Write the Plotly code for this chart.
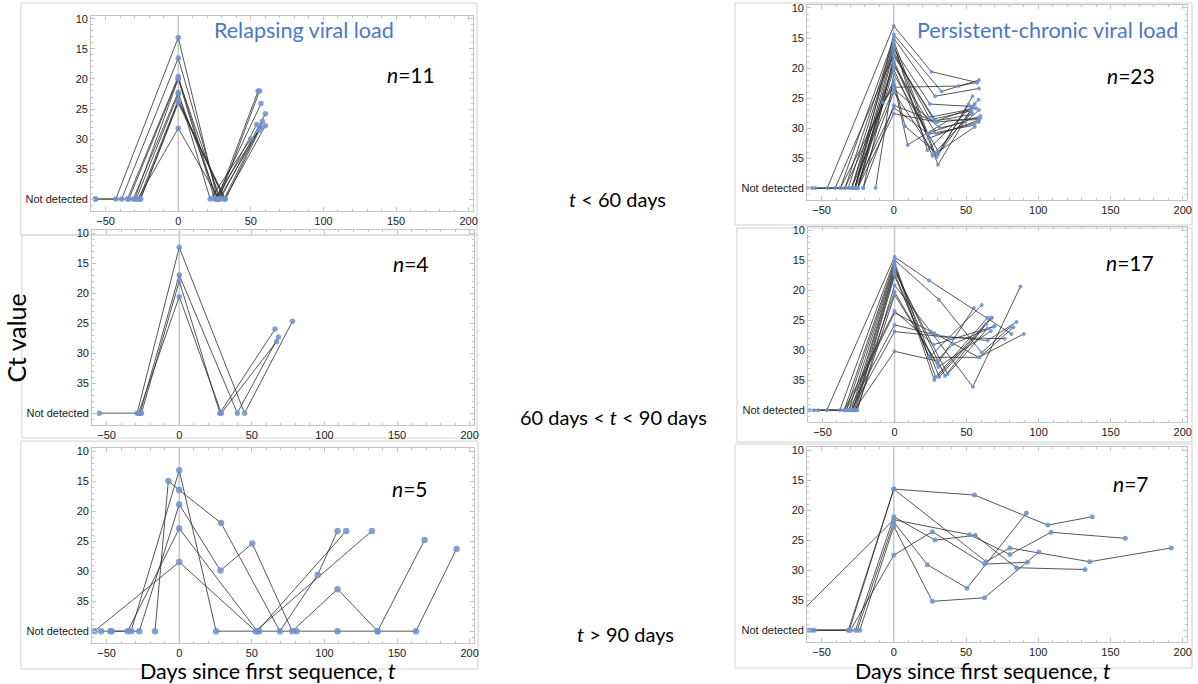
import plotly.graph_objects as go

ND = 40  # "Not detected" is drawn at Ct = 40

# ---------------- Relapsing viral load, t < 60 days (n=11) ----------------
rel_lt60_days = [
    [-57, -43, 0, 27, 55],
    [-39, 0, 28, 56],
    [-35, 0, 26, 57],
    [-34, 0, 29, 60],
    [-31, 0, 22, 50],
    [-29, 0, 27, 54],
    [-27, 0, 31.5, 58],
    [-26, 0, 32.5, 57],
    [-57, -26, 0, 32, 60],
    [-30, 0, 25, 56],
    [-28, 0, 28, 55.5],
]
rel_lt60_ct = [
    [ND, ND, 13.1, ND, 22.0],
    [ND, 16.5, ND, 22.0],
    [ND, 19.6, ND, 24.1],
    [ND, 19.9, ND, 25.8],
    [ND, 22.2, ND, 30.0],
    [ND, 22.5, ND, 27.6],
    [ND, 23.5, ND, 27.1],
    [ND, 23.7, ND, 28.0],
    [ND, ND, 24.0, ND, 27.8],
    [ND, 20.0, ND, 28.3],
    [ND, 28.2, ND, 28.6],
]

# ---------------- Relapsing viral load, 60 < t < 90 days (n=4) ----------------
rel_60_90_days = [
    [-55, -29, 0, 45, 78],
    [-27, 0, 40, 68.3],
    [-26, 0, 28, 66],
    [-28, 0, 29, 67],
]
rel_60_90_ct = [
    [ND, ND, 12.4, ND, 24.7],
    [ND, 17.0, ND, 27.3],
    [ND, 18.0, ND, 26.0],
    [ND, 20.6, ND, 28.1],
]

# ---------------- Relapsing viral load, t > 90 days (n=5) ----------------
rel_gt90_days = [
    [-58.4, 0, 52.6, 132.7],
    [-53.8, -47.4, -33.2, 0, 25.4, 55, 80.8, 109, 136.6, 163, 191],
    [-16.7, -7.5, 0, 28.8, 69.3, 95.4, 109],
    [-46.5, -27.5, 0, 28.4, 50.3, 77.8, 109, 136.6, 169],
    [-35.5, 0, 53.8, 115],
]
rel_gt90_ct = [
    [ND, 28.5, ND, 23.3],
    [ND, ND, ND, 13.2, ND, ND, ND, ND, ND, ND, 26.3],
    [ND, 15.0, 16.5, 22.0, ND, 30.6, 23.3],
    [ND, ND, 18.9, 29.9, 25.4, ND, 33.0, ND, 24.8],
    [ND, 22.9, ND, 23.3],
]

# ---------------- Persistent-chronic, t < 60 days (n=23) ----------------
per_lt60_days = [
    [-46, 0, 26, 57.5],
    [-60, -27, 0, 33, 59],
    [-37, 0, 28.5, 59],
    [-33.8, 0, 29.5, 54.5],
    [-31.5, 0, 23.3, 58.7],
    [-29.2, 0, 30.6, 56],
    [-56.6, -27, 0, 25, 54],
    [-25, 0, 24.4, 57],
    [-40.6, 0, 27.4, 53.7],
    [-21.2, 0, 29, 54.5],
    [-54.3, -25, 0, 22.8, 60],
    [-29.2, 0, 24, 58.7],
    [-27, 0, 29.5, 58.7],
    [-25, 0, 26.7, 56],
    [-12.6, 0, 31, 51.8],
    [-33.8, 0, 7.8, 30.6, 55],
    [-37, 0, 9.6, 38, 59],
    [-27, -7.5, 0, 45, 57.5],
    [-29.2, 0, 32, 49.5, 59],
    [-25, 0, 28, 54],
    [-21.2, 0, 28.5, 53],
    [-27, 0, 24, 56],
    [-25, 0, 30, 60],
]
per_lt60_ct = [
    [ND, 13.0, 20.6, 22.4],
    [ND, ND, 14.4, 23.9, 22.0],
    [ND, 15.0, 24.7, 23.4],
    [ND, 15.5, 34.9, 24.7],
    [ND, 16.0, 33.7, 25.3],
    [ND, 16.3, 36.1, 26.0],
    [ND, ND, 16.8, 26.0, 26.4],
    [ND, 17.3, 28.2, 26.7],
    [ND, 17.7, 28.5, 27.1],
    [ND, 18.0, 28.8, 27.7],
    [ND, ND, 18.8, 30.9, 28.0],
    [ND, 19.2, 31.7, 28.7],
    [ND, 19.6, 31.0, 29.0],
    [ND, 20.2, 34.6, 29.8],
    [ND, 21.0, 34.0, 26.1],
    [ND, 22.0, 29.7, 34.4, 26.5],
    [ND, 22.6, 32.8, 28.7, 28.6],
    [ND, 25.7, 23.2, 23.0, 22.4],
    [ND, 23.5, 30.0, 29.0, 27.0],
    [ND, 24.0, 34.2, 27.5],
    [ND, 26.2, 28.9, 26.8],
    [ND, 26.6, 31.0, 29.5],
    [ND, 27.6, 29.0, 28.3],
]

# ---------------- Persistent-chronic, 60 < t < 90 days (n=17) ----------------
per_60_90_days = [
    [-47, 0, 24, 81],
    [-38, 0, 30.8, 60.5, 80.6],
    [-59, -35, 0, 28.5, 64.6],
    [-33.6, 0, 27.6, 66.9],
    [-31.7, 0, 31, 67.6],
    [-30, 0, 35, 63.5],
    [-29, 0, 36.8, 64.6],
    [-27.9, 0, 24, 60.5],
    [-26, 0, 25, 54.3, 87.4],
    [-56, -29, 0, 30.4, 66.9],
    [-53, -26, 0, 29.9, 55],
    [-35, 0, 27, 68.7],
    [-33.6, 0, 27.6, 58.4, 89.7],
    [-31.7, 0, 30.4, 64.6, 84.7],
    [-30, 0, 37.7, 76.5],
    [-28, 0, 29.2, 40.6, 69.5],
    [-27, 0, 24, 59, 82.5],
]
per_60_90_ct = [
    [ND, 14.5, 18.4, 27.3],
    [ND, 15.0, 21.6, 30.4, 26.1],
    [ND, ND, 15.4, 34.5, 24.6],
    [ND, 15.8, 35.0, 24.6],
    [ND, 16.1, 34.5, 24.6],
    [ND, 16.5, 34.3, 25.7],
    [ND, 16.8, 34.0, 26.4],
    [ND, 17.2, 31.2, 22.5],
    [ND, 19.2, 26.9, 36.1, 19.4],
    [ND, ND, 20.3, 32.8, 26.8],
    [ND, ND, 20.8, 32.3, 23.0],
    [ND, 23.5, 29.1, 26.1],
    [ND, 23.8, 27.2, 31.2, 27.3],
    [ND, 25.8, 27.6, 28.4, 25.3],
    [ND, 26.9, 27.9, 28.1],
    [ND, 30.2, 31.8, 29.0, 26.0],
    [ND, 17.6, 31.2, 31.2, 26.2],
]

# ---------------- Persistent-chronic, t > 90 days (n=7) ----------------
per_gt90_days = [
    [-59, -31.5, 0, 55.9, 106.6, 137.4],
    [-57, -30.8, 0, 63.9, 80.4, 135.6, 192.2],
    [-77, 0, 52.5, 80.4, 108.9, 160.3],
    [-55, -26.5, 0, 28.5, 56.4, 84.9, 132.4],
    [-25.3, 0, 23.3, 50.7, 91.8],
    [-23.5, 0, 26.7, 62.8, 100.5],
    [-30, 0, 26.7, 62.8, 92.5],
]
per_gt90_ct = [
    [ND, ND, 16.5, 17.5, 22.5, 21.1],
    [ND, ND, 16.5, 28.6, 26.3, 28.6, 26.3],
    [ND, 21.6, 24.1, 27.4, 23.7, 24.7],
    [ND, ND, 21.1, 25.0, 24.2, 29.6, 29.9],
    [ND, 22.0, 29.1, 33.0, 20.5],
    [ND, 22.7, 35.2, 34.6, 27.0],
    [ND, 27.5, 23.6, 29.0, 28.7],
]

y_tickvals = [10, 15, 20, 25, 30, 35, 40]
y_ticktext = ["10", "15", "20", "25", "30", "35", "Not detected"]
x_tickvals = [-50, 0, 50, 100, 150, 200]
n_labels = ["11", "4", "5", "23", "17", "7"]

W, H = 1198, 684


def xdom(a, b):
    return [a / W, b / W]


def ydom(top, bottom):
    return [1 - bottom / H, 1 - top / H]


panels = [
    dict(days=rel_lt60_days, ct=rel_lt60_ct, xpx=(91.5, 475), ypx=(13, 209), ms=5.5, npos=(413, 72)),
    dict(days=rel_60_90_days, ct=rel_60_90_ct, xpx=(92.5, 476), ypx=(228, 424), ms=5.5, npos=(413, 262)),
    dict(days=rel_gt90_days, ct=rel_gt90_ct, xpx=(92.5, 476), ypx=(447, 643), ms=6.5, npos=(412, 488)),
    dict(days=per_lt60_days, ct=per_lt60_ct, xpx=(810.5, 1192), ypx=(2, 198), ms=4, npos=(1136, 73)),
    dict(days=per_60_90_days, ct=per_60_90_ct, xpx=(811.5, 1192), ypx=(225, 421), ms=4, npos=(1135, 261)),
    dict(days=per_gt90_days, ct=per_gt90_ct, xpx=(810.5, 1192), ypx=(446, 642), ms=5, npos=(1136, 483)),
]

fig = go.Figure()
layout = dict(
    width=W, height=H, margin=dict(l=0, r=0, t=0, b=0),
    paper_bgcolor="white", plot_bgcolor="white", showlegend=False,
)
shapes = []
annotations = []

axis_col = "#c4c4c4"
tick_font = dict(family="Liberation Sans, Arial, sans-serif", size=11, color="#1a1a1a")

for i, p in enumerate(panels, start=1):
    xa = "x" if i == 1 else f"x{i}"
    ya = "y" if i == 1 else f"y{i}"
    xkey = "xaxis" if i == 1 else f"xaxis{i}"
    ykey = "yaxis" if i == 1 else f"yaxis{i}"
    layout[xkey] = dict(
        domain=xdom(*p["xpx"]), anchor=ya, range=[-60, 203],
        tickvals=x_tickvals, ticks="inside", ticklen=4, tickcolor=axis_col,
        showline=True, linecolor=axis_col, linewidth=1, mirror="ticks",
        showgrid=False, zeroline=False, tickfont=tick_font,
        minor=dict(ticks="inside", ticklen=2, dtick=10, tickcolor=axis_col, showgrid=False),
    )
    layout[ykey] = dict(
        domain=ydom(*p["ypx"]), anchor=xa, range=[42, 9.5],
        tickmode="array", tickvals=y_tickvals, ticktext=y_ticktext,
        ticks="inside", ticklen=4, tickcolor=axis_col,
        showline=True, linecolor=axis_col, linewidth=1, mirror="ticks",
        showgrid=False, zeroline=False, tickfont=tick_font,
        minor=dict(ticks="inside", ticklen=2, dtick=1, tick0=10, tickcolor=axis_col, showgrid=False),
    )
    shapes.append(dict(type="line", xref=xa, yref=f"{ya} domain", x0=0, x1=0, y0=0, y1=1,
                       line=dict(color="#c8c8c8", width=1.5), layer="below"))
    for d, c in zip(p["days"], p["ct"]):
        fig.add_trace(go.Scatter(x=d, y=c, mode="lines", xaxis=xa, yaxis=ya,
                                 line=dict(color="rgba(45,45,45,0.8)", width=1),
                                 hoverinfo="skip"))
    for d, c in zip(p["days"], p["ct"]):
        fig.add_trace(go.Scatter(x=d, y=c, mode="markers", xaxis=xa, yaxis=ya,
                                 marker=dict(color="rgba(112,146,204,0.85)", size=p["ms"])))
    nx, ny = p["npos"]
    annotations.append(dict(text=f"<i>n</i>={n_labels[i-1]}", xref="paper", yref="paper",
                            x=nx / W, y=1 - ny / H, xanchor="center", yanchor="middle",
                            showarrow=False, font=dict(family="Lato, sans-serif", size=21, color="black")))

# Panel frames (light gray boxes)
frames = [(21, 0, 479, 233), (22, 233, 479, 437), (21, 440, 480, 669),
          (738, 0, 1198, 223), (740, 226, 1198, 441), (738, 443, 1198, 668)]
for x0, y0, x1, y1 in frames:
    shapes.append(dict(type="rect", xref="paper", yref="paper",
                       x0=x0 / W, x1=min(x1, 1197) / W, y0=1 - y1 / H, y1=1 - y0 / H,
                       line=dict(color="#d2d2d2", width=1), layer="below"))

blue = "#4a78c8"
text_font = dict(family="Lato, sans-serif", size=20, color="black")


def ann(text, px, py, font, **kw):
    d = dict(text=text, xref="paper", yref="paper", x=px / W, y=1 - py / H,
             xanchor="center", yanchor="middle", showarrow=False, font=font)
    d.update(kw)
    annotations.append(d)


ann("Relapsing viral load", 305, 27, dict(family="Lato, sans-serif", size=21.5, color=blue))
ann("Persistent-chronic viral load", 1052, 27, dict(family="Lato, sans-serif", size=21.5, color=blue))
ann("<i>t</i> &lt; 60 days", 620, 197, text_font)
ann("60 days &lt; <i>t</i> &lt; 90 days", 616, 416, text_font)
ann("<i>t</i> &gt; 90 days", 628, 634, text_font)
ann("Ct value", 16, 336, dict(family="Lato, sans-serif", size=25, color="black"), textangle=-90)
ann("Days since first sequence, <i>t</i>", 269, 671, dict(family="Lato, sans-serif", size=21.5, color="black"))
ann("Days since first sequence, <i>t</i>", 987, 671, dict(family="Lato, sans-serif", size=21.5, color="black"))

layout["shapes"] = shapes
layout["annotations"] = annotations
fig.update_layout(**layout)
fig.write_html("out.html", config={"displayModeBar": False},
               post_script="document.body.style.margin='0px';document.body.style.overflow='hidden';")
